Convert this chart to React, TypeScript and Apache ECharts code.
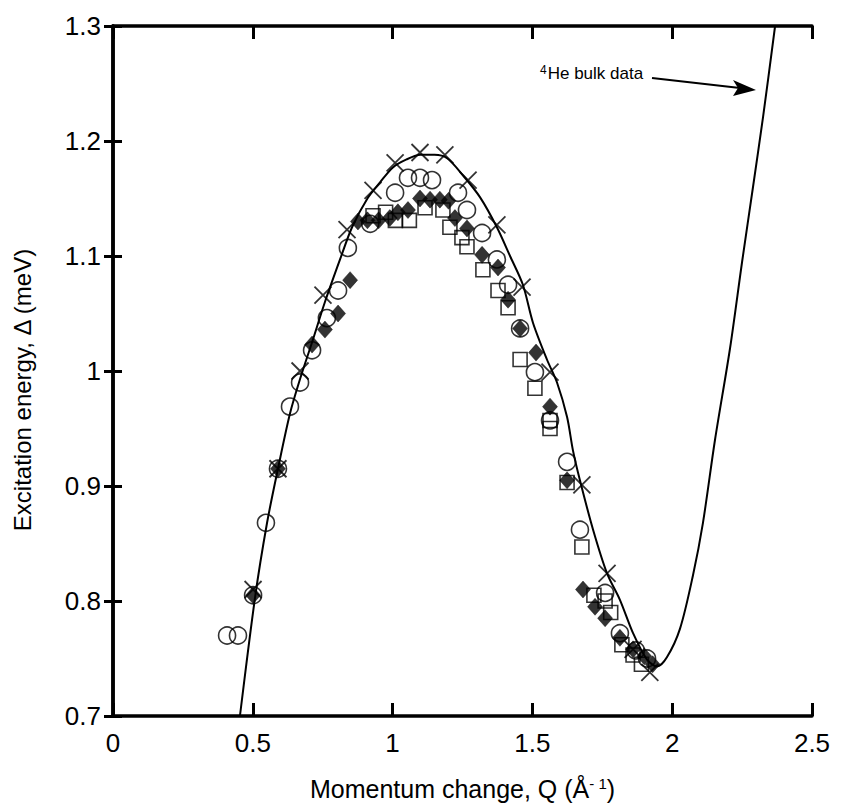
import React, { useEffect, useRef } from "react";
import * as echarts from "echarts";

// Axis tick values
const xTicks = [0, 0.5, 1, 1.5, 2, 2.5];
const yTicks = [0.7, 0.8, 0.9, 1.0, 1.1, 1.2, 1.3];

// 4He bulk dispersion curve (Q, energy)
const bulkCurve: [number, number][] = [
  [0.454, 0.7], [0.508, 0.803], [0.551, 0.868], [0.59, 0.915], [0.633, 0.963],
  [0.669, 0.993], [0.712, 1.025], [0.758, 1.06], [0.812, 1.097], [0.855, 1.125],
  [0.91, 1.15], [0.955, 1.164], [1.001, 1.177], [1.05, 1.184], [1.1, 1.188],
  [1.15, 1.188], [1.195, 1.185], [1.252, 1.17], [1.313, 1.151], [1.373, 1.125],
  [1.42, 1.1], [1.466, 1.075], [1.502, 1.042], [1.552, 1.01], [1.588, 0.99],
  [1.624, 0.96], [1.645, 0.931], [1.67, 0.905], [1.717, 0.862], [1.767, 0.824],
  [1.813, 0.801], [1.86, 0.772], [1.91, 0.749], [1.946, 0.743], [1.981, 0.751],
  [2.028, 0.776], [2.074, 0.822], [2.11, 0.868], [2.153, 0.94], [2.207, 1.02],
  [2.25, 1.095], [2.289, 1.16], [2.325, 1.221], [2.368, 1.3],
];

// Open circles
const circles: [number, number][] = [
  [0.408, 0.77], [0.447, 0.77], [0.501, 0.805], [0.547, 0.868], [0.59, 0.915],
  [0.633, 0.969], [0.669, 0.99], [0.712, 1.018], [0.765, 1.046], [0.805, 1.07],
  [0.84, 1.107], [0.92, 1.128], [1.009, 1.155], [1.055, 1.168], [1.098, 1.168],
  [1.141, 1.166], [1.234, 1.155], [1.266, 1.14], [1.32, 1.12], [1.373, 1.097],
  [1.413, 1.075], [1.456, 1.037], [1.509, 0.999], [1.563, 0.957], [1.624, 0.921],
  [1.67, 0.862], [1.76, 0.807], [1.813, 0.772], [1.87, 0.757], [1.91, 0.75],
];

// Crosses
const crosses: [number, number][] = [
  [0.501, 0.81], [0.59, 0.915], [0.669, 1.0], [0.751, 1.066], [0.837, 1.123],
  [0.93, 1.157], [1.009, 1.181], [1.098, 1.19], [1.187, 1.188], [1.27, 1.166],
  [1.373, 1.127], [1.463, 1.073], [1.563, 0.999], [1.677, 0.901], [1.767, 0.824],
  [1.86, 0.758], [1.92, 0.738],
];

// Filled diamonds
const diamonds: [number, number][] = [
  [0.501, 0.805], [0.59, 0.915], [0.712, 1.023], [0.758, 1.036], [0.805, 1.05],
  [0.848, 1.079], [0.876, 1.13], [0.91, 1.131], [0.95, 1.131], [0.99, 1.133],
  [1.019, 1.138], [1.055, 1.14], [1.098, 1.15], [1.134, 1.149], [1.169, 1.149],
  [1.2, 1.148], [1.223, 1.133], [1.266, 1.124], [1.32, 1.101], [1.377, 1.09],
  [1.413, 1.062], [1.456, 1.037], [1.513, 1.016], [1.563, 0.969], [1.624, 0.905],
  [1.681, 0.81], [1.724, 0.795], [1.76, 0.785], [1.813, 0.768], [1.86, 0.758],
  [1.9, 0.752], [1.93, 0.745],
];

// Open squares
const squares: [number, number][] = [
  [0.93, 1.135], [0.975, 1.138], [1.01, 1.131], [1.06, 1.131], [1.116, 1.142],
  [1.18, 1.14], [1.205, 1.125], [1.248, 1.116], [1.266, 1.108], [1.323, 1.088],
  [1.377, 1.07], [1.413, 1.055], [1.456, 1.01], [1.509, 0.985], [1.563, 0.957],
  [1.563, 0.95], [1.624, 0.903], [1.677, 0.847], [1.72, 0.805], [1.76, 0.8],
  [1.78, 0.79], [1.82, 0.762], [1.86, 0.753], [1.89, 0.745],
];

const FONT = "'Liberation Sans', Arial, Helvetica, sans-serif";

export default function App() {
  const ref = useRef<HTMLDivElement>(null);
  useEffect(() => {
    if (!ref.current) return;
    const chart = echarts.init(ref.current, null, { renderer: "svg" });
    const axisLine = { show: true, lineStyle: { color: "#000", width: 3.5 } };
    const axisTick = { show: true, inside: true, length: 13, lineStyle: { color: "#000", width: 3 } };
    const xFmt = (v: number) => String(+v.toFixed(2));
    const yFmt = (v: number) => String(+v.toFixed(2));
    chart.setOption({
      animation: false,
      backgroundColor: "#fff",
      grid: { left: 113, right: 29, top: 26, bottom: 93, containLabel: false },
      xAxis: [
        {
          type: "value", min: xTicks[0], max: xTicks[xTicks.length - 1], interval: 0.5,
          position: "bottom", axisLine, axisTick, splitLine: { show: false },
          axisLabel: { formatter: xFmt, fontSize: 26, color: "#000", fontFamily: FONT, margin: 14 },
          name: "Momentum change, Q (Å{sup|- 1})",
          nameLocation: "middle", nameGap: 60,
          nameTextStyle: {
            fontSize: 25, color: "#000", fontFamily: FONT,
            rich: { sup: { fontSize: 15, verticalAlign: "top", fontFamily: FONT, color: "#000", padding: [0, 0, 9, 0] } },
          },
        },
        {
          type: "value", min: xTicks[0], max: xTicks[xTicks.length - 1], interval: 0.5,
          position: "top", axisLine, axisTick, splitLine: { show: false }, axisLabel: { show: false },
        },
      ],
      yAxis: [
        {
          type: "value", min: yTicks[0], max: yTicks[yTicks.length - 1], interval: 0.1,
          position: "left", axisLine, axisTick: { ...axisTick, length: 9 }, splitLine: { show: false },
          axisLabel: { formatter: yFmt, fontSize: 26, color: "#000", fontFamily: FONT, margin: 12 },
          name: "Excitation energy, Δ (meV)",
          nameLocation: "middle", nameGap: 79, nameRotate: 90,
          nameTextStyle: { fontSize: 24, color: "#000", fontFamily: FONT, padding: [0, 38, 0, 0] },
        },
        {
          type: "value", min: yTicks[0], max: yTicks[yTicks.length - 1], interval: 0.1,
          position: "right", axisLine, axisTick: { ...axisTick, length: 9 }, splitLine: { show: false }, axisLabel: { show: false },
        },
      ],
      series: [
        {
          type: "line", data: bulkCurve, smooth: 0.3, showSymbol: false, clip: true,
          lineStyle: { color: "#000", width: 2 }, z: 2,
        },
        {
          type: "scatter", data: circles, symbol: "circle", symbolSize: 17,
          itemStyle: { color: "rgba(255,255,255,0)", borderColor: "#000", borderWidth: 1.6 }, z: 3,
        },
        {
          type: "scatter", data: squares, symbol: "rect", symbolSize: 14,
          itemStyle: { color: "rgba(255,255,255,0)", borderColor: "#000", borderWidth: 1.6 }, z: 4,
        },
        {
          type: "scatter", data: diamonds, symbol: "diamond", symbolSize: [15, 17],
          itemStyle: { color: "#000", borderColor: "#000", borderWidth: 0.5 }, z: 5,
        },
        {
          type: "scatter", data: crosses, symbol: "path://M0,0L10,10M10,0L0,10", symbolSize: 17,
          itemStyle: { color: "none", borderColor: "#000", borderWidth: 1.8 }, z: 6,
        },
      ],
      graphic: [
        {
          type: "text", left: 540, top: 64,
          style: {
            text: "{sup|4}He bulk data", fill: "#000", font: `17px ${FONT}`,
            rich: { sup: { fontSize: 12, verticalAlign: "top", fill: "#000", fontFamily: FONT, padding: [0, 1, 7, 0] } },
          },
        },
        { type: "line", shape: { x1: 652, y1: 78, x2: 740, y2: 88 }, style: { stroke: "#000", lineWidth: 2 } },
        { type: "polygon", shape: { points: [[756, 90], [733, 80], [738, 88], [733, 96]] }, style: { fill: "#000" } },
      ],
    });
    return () => chart.dispose();
  }, []);
  return <div ref={ref} style={{ position: "absolute", left: 0, top: 0, width: 841, height: 809 }} />;
}
